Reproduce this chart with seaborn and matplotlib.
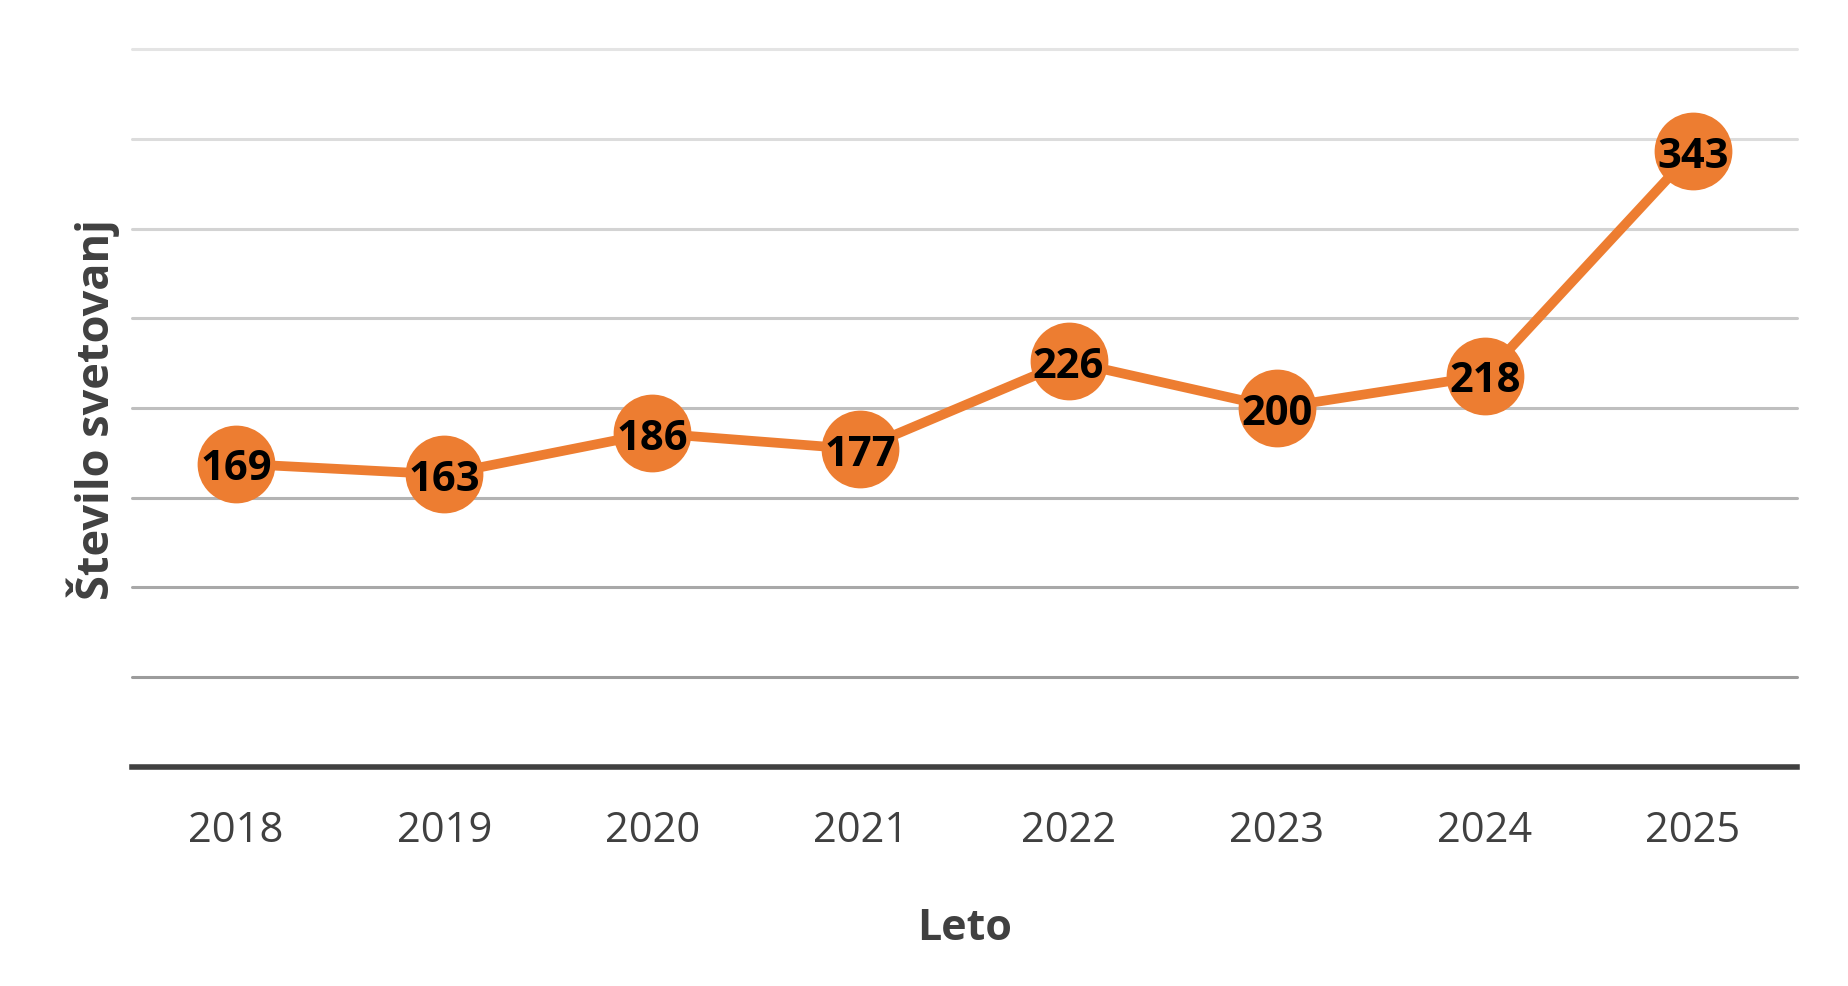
import matplotlib
matplotlib.use("Agg")
import matplotlib.pyplot as plt
import seaborn as sns
import pandas as pd

# data
years = ["2018", "2019", "2020", "2021", "2022", "2023", "2024", "2025"]
counts = [169, 163, 186, 177, 226, 200, 218, 343]

# gridlines every 50, lighter towards the top
grid_levels = [50, 100, 150, 200, 250, 300, 350, 400]
grid_colors = ["#9c9c9c", "#a8a8a8", "#b3b3b3", "#bfbfbf", "#c9c9c9", "#d3d3d3", "#dcdcdc", "#e4e4e4"]

orange = "#ED7D31"
dark = "#404040"

sns.set_theme(style="white")
plt.rcParams["font.family"] = ["Open Sans", "DejaVu Sans"]

df = pd.DataFrame({"year": years, "count": counts})

fig = plt.figure(figsize=(18.49, 9.87), dpi=100)
ax = fig.add_axes([0.0714, 0.2219, 0.9005, 0.7274])

for lvl, c in zip(grid_levels, grid_colors):
    ax.axhline(lvl, color=c, linewidth=2.2, zorder=0)

sns.lineplot(data=df, x="year", y="count", ax=ax, color=orange, linewidth=7,
             marker="o", markersize=56, markeredgewidth=0, zorder=3)
for ln in ax.lines:
    ln.set_clip_on(False)

for i, v in enumerate(counts):
    ax.text(i, v, str(v), ha="center", va="center_baseline", fontsize=30,
            fontweight="bold", color="black", zorder=5)

ax.set_xlim(-0.5, len(years) - 0.5)
ax.set_ylim(0, 400)
ax.set_yticks([])
for s in ["top", "right", "left"]:
    ax.spines[s].set_visible(False)
ax.spines["bottom"].set_color(dark)
ax.spines["bottom"].set_linewidth(4)

ax.tick_params(axis="x", length=0, pad=30, labelsize=30, labelcolor=dark)
ax.set_xlabel("Leto", fontsize=31, fontweight="bold", color=dark, labelpad=40)
ax.set_ylabel("Število svetovanj", fontsize=32.5, fontweight="bold", color=dark, labelpad=9)

fig.savefig("out.png", dpi=100, facecolor="white")
